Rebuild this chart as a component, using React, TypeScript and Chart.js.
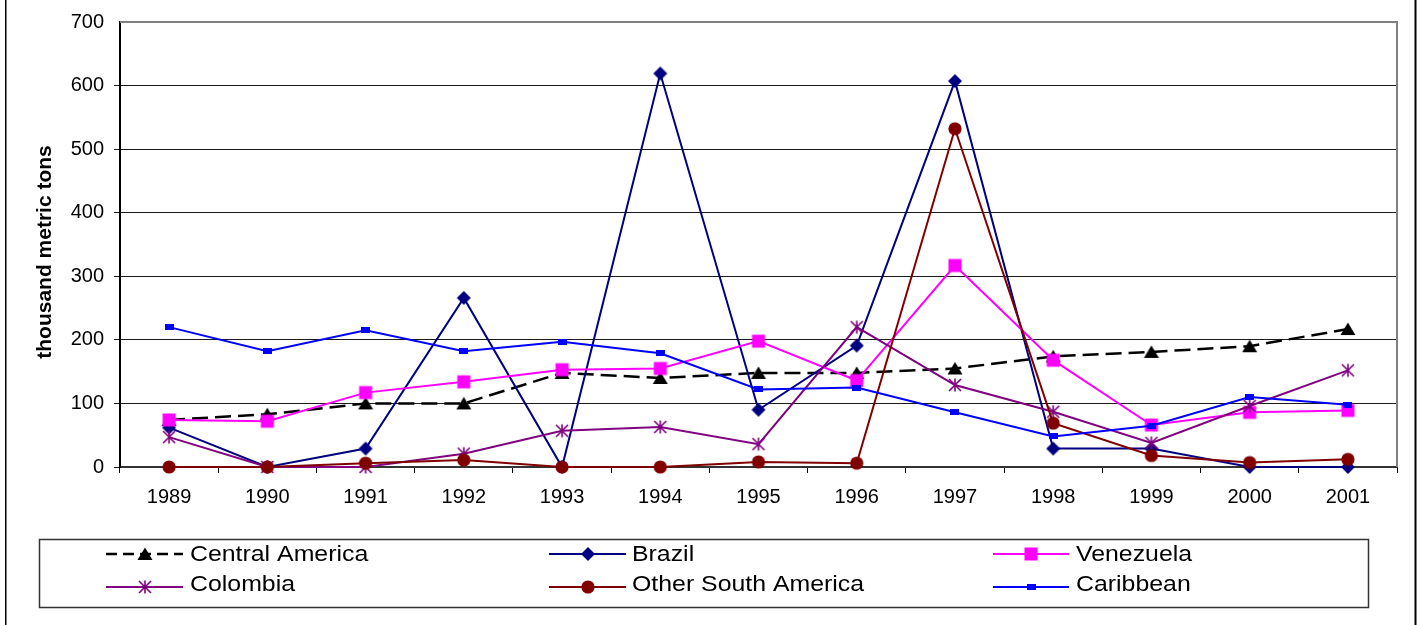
import React, { useEffect, useRef } from 'react';
import { Chart, registerables } from 'chart.js';

Chart.register(...registerables);

// ---------------- data ----------------
const years = ['1989', '1990', '1991', '1992', '1993', '1994', '1995', '1996', '1997', '1998', '1999', '2000', '2001'];
const centralAmerica = [74, 83, 100, 100, 148, 140, 148, 148, 155, 174, 181, 190, 217];
const brazil = [62, 0, 29, 266, 0, 619, 90, 191, 607, 29, 29, 0, 0];
const venezuela = [74, 72, 117, 134, 153, 155, 198, 136, 317, 168, 66, 86, 89];
const colombia = [47, 0, 0, 21, 57, 63, 36, 220, 129, 87, 38, 96, 152];
const otherSouthAmerica = [0, 0, 6, 11, 0, 0, 8, 6, 532, 69, 18, 7, 12];
const caribbean = [220, 182, 215, 182, 197, 179, 122, 125, 86, 48, 65, 110, 98];
const seriesNames = ['Central America', 'Brazil', 'Venezuela', 'Colombia', 'Other South America', 'Caribbean'];
const yTitle = 'thousand metric tons';
const FONT = '"Liberation Sans", Arial, Helvetica, sans-serif';

// ---------------- markers ----------------
function makeMarker(kind: string, color: string): HTMLCanvasElement {
  const c = document.createElement('canvas');
  let w = 18, h = 18;
  if (kind === 'smallrect') { w = 9; h = 6; }
  c.width = w; c.height = h;
  const g = c.getContext('2d') as CanvasRenderingContext2D;
  g.fillStyle = color; g.strokeStyle = color;
  const cx = w / 2, cy = h / 2;
  g.beginPath();
  switch (kind) {
    case 'triangle':
      g.moveTo(cx, cy - 6.5); g.lineTo(cx + 7.5, cy + 6); g.lineTo(cx - 7.5, cy + 6); g.closePath(); g.fill();
      break;
    case 'diamond':
      g.moveTo(cx, cy - 7); g.lineTo(cx + 7, cy); g.lineTo(cx, cy + 7); g.lineTo(cx - 7, cy); g.closePath(); g.fill();
      break;
    case 'square':
      g.fillRect(cx - 6.5, cy - 6.5, 13, 13);
      break;
    case 'asterisk':
      g.lineWidth = 1.6;
      g.moveTo(cx, cy - 6.5); g.lineTo(cx, cy + 6.5);
      g.moveTo(cx - 6, cy - 6); g.lineTo(cx + 6, cy + 6);
      g.moveTo(cx - 6, cy + 6); g.lineTo(cx + 6, cy - 6);
      g.stroke();
      break;
    case 'circle':
      g.arc(cx, cy, 6.6, 0, Math.PI * 2); g.fill();
      break;
    case 'smallrect':
      g.fillRect(0, 0, w, h);
      break;
  }
  return c;
}

export default function App() {
  const ref = useRef<HTMLCanvasElement | null>(null);

  useEffect(() => {
    const canvas = ref.current;
    if (!canvas) return;

    const colors = ['#000000', '#000080', '#FF00FF', '#800080', '#800000', '#0000FF'];
    const kinds = ['triangle', 'diamond', 'square', 'asterisk', 'circle', 'smallrect'];
    const markers = kinds.map((k, i) => makeMarker(k, colors[i]));
    const values = [centralAmerica, brazil, venezuela, colombia, otherSouthAmerica, caribbean];
    const dashes: number[][] = [[16, 7], [], [], [], [], []];
    const widths = [2.5, 2, 2, 2, 2, 2];

    const datasets = values.map((v, i) => ({
      label: seriesNames[i],
      data: v,
      borderColor: colors[i],
      backgroundColor: colors[i],
      borderWidth: widths[i],
      borderDash: dashes[i],
      pointStyle: markers[i] as any,
      pointRadius: 7,
      pointHoverRadius: 7,
      tension: 0,
      fill: false,
      clip: false as any,
      order: 6 - i,
    }));

    const decor = {
      id: 'decor',
      beforeDraw(chart: any) {
        const ctx = chart.ctx;
        ctx.save();
        ctx.fillStyle = '#ffffff';
        ctx.fillRect(0, 0, chart.width, chart.height);
        ctx.restore();
      },
      afterDraw(chart: any) {
        const ctx: CanvasRenderingContext2D = chart.ctx;
        const a = chart.chartArea;
        ctx.save();
        // plot frame top/right
        ctx.strokeStyle = '#808080';
        ctx.lineWidth = 2;
        ctx.beginPath();
        ctx.moveTo(a.left, a.top);
        ctx.lineTo(a.right, a.top);
        ctx.lineTo(a.right, a.bottom);
        ctx.stroke();

        // outer frame lines
        ctx.fillStyle = '#000000';
        ctx.fillRect(5, 0, 1.5, chart.height);
        ctx.fillRect(1414.5, 0, 2, chart.height);

        // y title
        ctx.save();
        ctx.translate(45, 252);
        ctx.rotate(-Math.PI / 2);
        ctx.font = `bold 21px ${FONT}`;
        ctx.fillStyle = '#000';
        ctx.textAlign = 'center';
        ctx.textBaseline = 'middle';
        ctx.fillText(yTitle, 0, 0);
        ctx.restore();

        // legend box
        ctx.strokeStyle = '#333333';
        ctx.lineWidth = 1.5;
        ctx.strokeRect(39.5, 539.5, 1329, 68);

        const lineStart = [106, 549, 993];
        const lineEnd = [183, 626, 1069];
        const textX = [190, 632, 1076];
        const lineY = [554, 587];
        const textY = [555, 585];
        for (let i = 0; i < seriesNames.length; i++) {
          const col = i % 3;
          const row = Math.floor(i / 3);
          ctx.save();
          ctx.strokeStyle = colors[i];
          ctx.lineWidth = widths[i];
          ctx.setLineDash(i === 0 ? [11, 6] : []);
          ctx.beginPath();
          ctx.moveTo(lineStart[col], lineY[row]);
          ctx.lineTo(lineEnd[col], lineY[row]);
          ctx.stroke();
          ctx.restore();
          const m = markers[i];
          const mx = (lineStart[col] + lineEnd[col]) / 2;
          ctx.drawImage(m, Math.round(mx - m.width / 2), Math.round(lineY[row] - m.height / 2));
          ctx.save();
          ctx.translate(textX[col], textY[row]);
          ctx.scale(1.13, 1);
          ctx.font = `22px ${FONT}`;
          ctx.fillStyle = '#000';
          ctx.textAlign = 'left';
          ctx.textBaseline = 'middle';
          ctx.fillText(seriesNames[i], 0, 0);
          ctx.restore();
        }
        ctx.restore();
      },
    };

    const chart = new Chart(canvas, {
      type: 'line',
      data: { labels: years, datasets: datasets as any },
      options: {
        responsive: false,
        devicePixelRatio: 1,
        animation: false,
        layout: { padding: { top: 19, right: 20, left: 0, bottom: 0 } },
        plugins: {
          legend: { display: false },
          tooltip: { enabled: false },
          title: { display: false },
        },
        scales: {
          x: {
            type: 'category',
            offset: true,
            grid: {
              offset: true,
              drawOnChartArea: false,
              drawTicks: true,
              tickLength: 6,
              color: '#000000',
              lineWidth: 1,
            },
            border: { display: true, color: '#333333', width: 2 },
            ticks: {
              color: '#000',
              font: { family: FONT, size: 20 },
              padding: 12,
              maxRotation: 0,
              autoSkip: false,
            },
            afterFit(scale: any) { scale.height = 158; },
          },
          y: {
            min: 0,
            max: 700,
            ticks: {
              stepSize: 100,
              color: '#000',
              font: { family: FONT, size: 20 },
              padding: 10,
            },
            grid: {
              drawOnChartArea: true,
              drawTicks: true,
              tickLength: 6,
              color: (c: any) => (c.tick && c.tick.value === 700 ? 'rgba(0,0,0,0)' : '#1a1a1a'),
              lineWidth: 1,
            },
            border: { display: true, color: '#000000', width: 2 },
            afterFit(scale: any) { scale.width = 120; },
          },
        },
      },
      plugins: [decor],
    });

    return () => chart.destroy();
  }, []);

  return (
    <div style={{ position: 'absolute', left: 0, top: 0, width: 1417, height: 625, background: '#fff' }}>
      <canvas ref={ref} width={1417} height={625} style={{ display: 'block' }} />
    </div>
  );
}
